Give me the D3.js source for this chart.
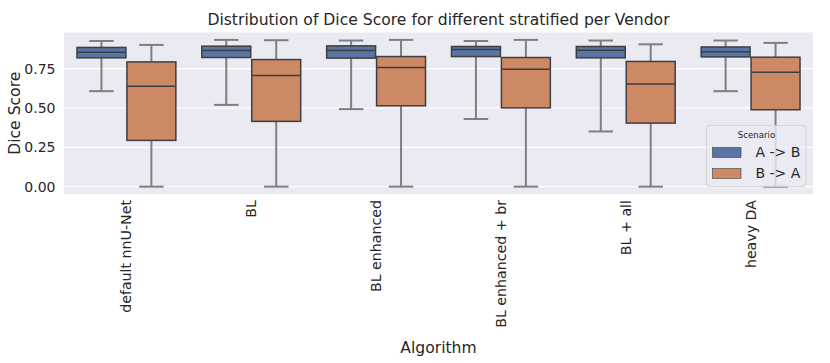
<!DOCTYPE html>
<html>
<head>
<meta charset="utf-8">
<script src="https://cdn.jsdelivr.net/npm/d3@7"></script>
<style>
  body { margin: 0; background: #fff; }
  text { font-family: "DejaVu Sans", sans-serif; fill: #262626; }
</style>
</head>
<body>
<div id="chart"></div>
<script>
// categories and hue levels
const algorithms = ["default nnU-Net", "BL", "BL enhanced", "BL enhanced + br", "BL + all", "heavy DA"];
const scenarios = ["A -> B", "B -> A"];

// five-number summaries: [low whisker, q1, median, q3, high whisker]
const statsAB = [
  [0.607, 0.819, 0.855, 0.885, 0.926],
  [0.520, 0.821, 0.865, 0.893, 0.933],
  [0.493, 0.817, 0.865, 0.895, 0.929],
  [0.430, 0.827, 0.872, 0.891, 0.926],
  [0.351, 0.819, 0.867, 0.891, 0.929],
  [0.607, 0.825, 0.857, 0.888, 0.929]
];
const statsBA = [
  [0.0, 0.294, 0.639, 0.793, 0.901],
  [0.0, 0.415, 0.707, 0.808, 0.931],
  [0.0, 0.514, 0.758, 0.827, 0.933],
  [0.0, 0.501, 0.747, 0.821, 0.933],
  [0.0, 0.404, 0.652, 0.796, 0.905],
  [0.0, 0.489, 0.728, 0.823, 0.914]
];
const yTicks = [0, 0.25, 0.5, 0.75];
const colors = ["#5875a4", "#cc8963"];

const W = 830, H = 363;
const margin = {top: 32.5, right: 17, bottom: 169, left: 64};
const width = W - margin.left - margin.right;
const height = H - margin.top - margin.bottom;

const svg = d3.select("#chart").append("svg")
    .attr("width", W)
    .attr("height", H);

const g = svg.append("g")
    .attr("transform", `translate(${margin.left},${margin.top})`);

// scales
const x = d3.scaleBand().domain(algorithms).range([0, width]).padding(0);
const xHue = d3.scaleBand().domain(scenarios).range([x.bandwidth() * 0.1, x.bandwidth() * 0.9]);
const y = d3.scaleLinear().domain([-0.0467, 0.98]).range([height, 0]);

// background + grid
g.append("rect").attr("width", width).attr("height", height).attr("fill", "#eaeaf2");
g.append("g").selectAll("line").data(yTicks).join("line")
    .attr("x1", 0).attr("x2", width)
    .attr("y1", d => y(d)).attr("y2", d => y(d))
    .attr("stroke", "#fff").attr("stroke-width", 1.2);

// axes (no tick marks, no domain line)
const yAxis = g.append("g")
    .call(d3.axisLeft(y).tickValues(yTicks).tickFormat(d3.format(".2f")).tickSize(0).tickPadding(8.5));
yAxis.select(".domain").remove();
yAxis.selectAll("text").style("font-size", "14px").attr("fill", "#262626");

const xAxis = g.append("g")
    .attr("transform", `translate(0,${height})`)
    .call(d3.axisBottom(x).tickSize(0));
xAxis.select(".domain").remove();
xAxis.selectAll("text")
    .style("font-size", "14.2px")
    .attr("fill", "#262626")
    .attr("transform", "rotate(-90)")
    .attr("text-anchor", "end")
    .attr("x", -6)
    .attr("y", 0)
    .attr("dy", "0.35em");

// boxes
const boxData = [];
algorithms.forEach((a, i) => {
  boxData.push({alg: a, sc: scenarios[0], s: statsAB[i], c: colors[0]});
  boxData.push({alg: a, sc: scenarios[1], s: statsBA[i], c: colors[1]});
});

const bw = xHue.bandwidth() * 0.98;
const boxes = g.append("g").selectAll("g.box").data(boxData).join("g")
    .attr("class", "box")
    .attr("transform", d => `translate(${x(d.alg) + xHue(d.sc) + xHue.bandwidth() / 2},0)`);

// whiskers
boxes.append("line")
    .attr("x1", 0).attr("x2", 0)
    .attr("y1", d => y(d.s[3])).attr("y2", d => y(d.s[4]))
    .attr("stroke", "#7f7f7f").attr("stroke-width", 2);
boxes.append("line")
    .attr("x1", 0).attr("x2", 0)
    .attr("y1", d => y(d.s[1])).attr("y2", d => y(d.s[0]))
    .attr("stroke", "#7f7f7f").attr("stroke-width", 2);
// caps
boxes.selectAll("line.cap").data(d => [d.s[0], d.s[4]]).join("line")
    .attr("class", "cap")
    .attr("x1", -bw / 4).attr("x2", bw / 4)
    .attr("y1", d => y(d)).attr("y2", d => y(d))
    .attr("stroke", "#7f7f7f").attr("stroke-width", 2);
// box
boxes.append("rect")
    .attr("x", -bw / 2).attr("width", bw)
    .attr("y", d => y(d.s[3]))
    .attr("height", d => y(d.s[1]) - y(d.s[3]))
    .attr("fill", d => d.c)
    .attr("stroke", "#3f3f3f").attr("stroke-width", 1.5);
// median
boxes.append("line")
    .attr("x1", -bw / 2).attr("x2", bw / 2)
    .attr("y1", d => y(d.s[2])).attr("y2", d => y(d.s[2]))
    .attr("stroke", "#3f3f3f").attr("stroke-width", 1.5);

// title and axis labels
svg.append("text")
    .attr("x", margin.left + width / 2).attr("y", 24.5)
    .attr("text-anchor", "middle")
    .style("font-size", "15.6px")
    .text("Distribution of Dice Score for different stratified per Vendor");

svg.append("text")
    .attr("x", margin.left + width / 2).attr("y", 353)
    .attr("text-anchor", "middle")
    .style("font-size", "15.6px")
    .text("Algorithm");

svg.append("text")
    .attr("transform", `translate(20,${margin.top + height / 2}) rotate(-90)`)
    .attr("text-anchor", "middle")
    .style("font-size", "15.6px")
    .text("Dice Score");

// legend
const legend = svg.append("g").attr("transform", "translate(706.5,125.5)");
legend.append("rect")
    .attr("width", 99.5).attr("height", 61)
    .attr("rx", 3)
    .attr("fill", "#eaeaf2").attr("fill-opacity", 0.8)
    .attr("stroke", "#d0d0d0").attr("stroke-opacity", 0.8).attr("stroke-width", 1);
legend.append("text")
    .attr("x", 50).attr("y", 12)
    .attr("text-anchor", "middle")
    .style("font-size", "8.6px")
    .text("Scenario");
const items = legend.selectAll("g.item").data(scenarios).join("g")
    .attr("class", "item")
    .attr("transform", (d, i) => `translate(6,${22 + i * 21})`);
items.append("rect")
    .attr("width", 28.5).attr("height", 10)
    .attr("fill", (d, i) => colors[i])
    .attr("stroke", "#3f3f3f").attr("stroke-width", 0.6);
items.append("text")
    .attr("x", 43).attr("y", 5)
    .attr("dy", "0.35em")
    .style("font-size", "14px")
    .text(d => d);
</script>
</body>
</html>
